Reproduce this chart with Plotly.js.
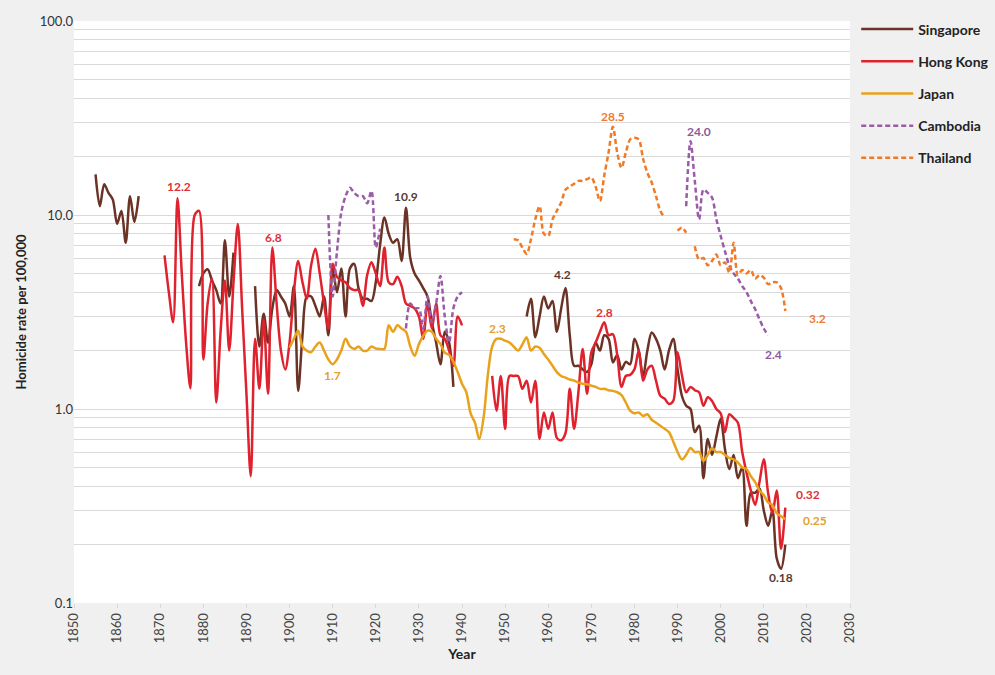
<!DOCTYPE html>
<html>
<head>
<meta charset="utf-8">
<script src="https://cdn.plot.ly/plotly-3.0.1.min.js"></script>
<style>
  html, body { margin: 0; padding: 0; background: #f0f0f0; }
  #chart { width: 995px; height: 675px; }
</style>
</head>
<body>
<div id="chart"></div>
<script>
// ---------- DATA (homicide rate per 100,000) ----------
// Each segment: first year, then yearly values
const singaporeStarts = [1855, 1879, 1892, 1955];
const singapore1855 = [16.2, 11.1, 14.4, 13.0, 12.0, 9.0, 10.5, 7.2, 12.5, 9.2, 12.5];
const singapore1879 = [4.3, 5.0, 5.25, 4.6, 4.1, 3.5, 7.4, 3.8, 6.4];
const singapore1892 = [4.3, 2.1, 3.1, 2.2, 3.3, 4.1, 3.8, 3.5, 3.0, 4.3, 1.24, 2.4, 3.8, 3.8, 3.4, 3.0, 3.8, 2.4,
  5.3, 4.0, 5.3, 3.0, 5.3, 5.6, 4.2, 3.7, 3.7, 3.6, 4.5, 7.0, 9.7, 8.0, 7.2, 7.5, 5.8, 10.9, 6.0, 5.0, 4.6, 4.2,
  3.8, 2.8, 2.2, 1.7, 2.5, 2.2, 1.3];
const singapore1955 = [3.0, 3.7, 2.34, 3.0, 3.8, 3.3, 3.6, 2.5, 3.3, 4.2, 2.4, 1.67, 1.67, 1.6, 1.55, 1.7, 2.2, 2.0,
  2.4, 2.3, 1.74, 1.9, 1.6, 1.75, 1.7, 2.3, 2.0, 1.48, 2.0, 2.48, 2.3, 2.0, 1.6, 2.0, 2.3, 1.6, 1.17, 1.04, 1.0,
  0.76, 0.82, 0.44, 0.70, 0.58, 0.72, 0.89, 0.62, 0.49, 0.58, 0.44, 0.5, 0.25, 0.37, 0.37, 0.39, 0.3, 0.25, 0.3,
  0.17, 0.15, 0.2];

const hongKongStarts = [1871, 1947];
const hongKong1871 = [6.2, 4.0, 2.8, 12.2, 5.0, 2.2, 1.28, 10.0, 10.5, 1.8, 3.5, 4.7, 1.08, 2.5, 4.6, 2.0, 4.5, 9.0,
  3.3, 1.2, 0.45, 2.3, 1.27, 2.9, 1.2, 6.8, 3.5, 2.0, 1.6, 2.2, 4.0, 5.8, 4.5, 3.7, 5.5, 6.7, 5.0, 3.5, 2.6, 5.6,
  4.8, 4.6, 4.5, 4.2, 4.1, 4.1, 3.4, 4.9, 5.7, 5.0, 4.3, 6.8, 4.5, 4.4, 4.8, 4.3, 3.5, 3.4, 3.3, 3.0, 2.3, 3.5,
  2.6, 3.5, 2.4, 2.3, 2.0, 1.67, 3.0, 2.7];
const hongKong1947 = [1.48, 0.98, 1.48, 0.79, 1.48, 1.48, 1.48, 1.27, 1.4, 1.08, 1.4, 0.70, 0.96, 0.79, 0.96, 0.71,
  0.69, 0.75, 1.27, 0.79, 1.22, 2.04, 1.2, 1.96, 2.2, 2.5, 2.8, 2.4, 2.43, 1.9, 1.3, 1.48, 1.5, 1.6, 2.0, 1.4,
  1.6, 1.67, 1.4, 1.17, 1.13, 1.06, 1.1, 1.96, 1.5, 1.22, 1.3, 1.25, 1.22, 1.04, 1.15, 1.1, 1.0, 0.95, 0.76,
  0.94, 0.9, 0.85, 0.6, 0.47, 0.38, 0.32, 0.42, 0.55, 0.37, 0.29, 0.38, 0.19, 0.31];

const japanStarts = [1900];
const japan1900 = [2.07, 2.3, 2.53, 2.1, 2.0, 1.96, 2.1, 2.2, 2.0, 1.8, 1.7, 1.8, 2.0, 2.3, 2.1, 2.04, 2.1, 2.0,
  2.0, 2.1, 2.05, 2.04, 2.04, 2.7, 2.5, 2.7, 2.6, 2.5, 2.1, 1.88, 2.16, 2.38, 2.53, 2.5, 2.3, 2.16, 1.95, 1.9,
  1.75, 1.55, 1.35, 1.22, 0.95, 0.85, 0.70, 0.9, 1.5, 2.1, 2.3, 2.3, 2.25, 2.2, 2.1, 2.0, 2.15, 2.34, 2.0, 2.1,
  2.07, 1.92, 1.8, 1.67, 1.55, 1.48, 1.45, 1.42, 1.4, 1.37, 1.35, 1.34, 1.32, 1.3, 1.27, 1.27, 1.25, 1.24, 1.22,
  1.18, 1.08, 0.98, 0.95, 0.96, 0.92, 0.94, 0.88, 0.85, 0.82, 0.79, 0.76, 0.68, 0.6, 0.55, 0.58, 0.63, 0.6, 0.6,
  0.54, 0.58, 0.63, 0.6, 0.6, 0.58, 0.56, 0.55, 0.53, 0.5, 0.49, 0.45, 0.42, 0.38, 0.36, 0.33, 0.32, 0.29, 0.28,
  0.27];

const cambodiaStarts = [1909, 1927, 1992];
const cambodia1909 = [10.0, 3.8, 6.5, 10.3, 12.5, 13.8, 13.0, 12.5, 12.5, 11.5, 13.3, 6.8, 8.5];
const cambodia1927 = [2.6, 3.5, 3.3, 3.3, 2.6, 3.8, 2.8, 3.5, 4.85, 3.0, 2.2, 3.3, 3.8, 4.0];
const cambodia1992 = [11.1, 24.0, 15.0, 9.5, 13.5, 13.0, 12.3, 9.5, 7.8, 6.5, 5.5, 5.0, 4.7, 4.3, 4.0, 3.6, 3.27,
  2.9, 2.6, 2.4];

const thailandStarts = [1952, 1990, 1994];
const thailand1952 = [7.5, 7.4, 6.8, 6.3, 7.5, 9.5, 11.1, 8.0, 7.8, 9.5, 10.5, 11.6, 13.5, 14.0, 14.5, 15.0, 15.0,
  15.3, 15.6, 14.0, 11.8, 16.0, 21.0, 28.5, 21.0, 17.5, 21.0, 24.5, 25.0, 24.5, 19.5, 16.5, 14.7, 12.5, 10.5, 9.7];
const thailand1990 = [8.3, 8.6, 8.1];
const thailand1994 = [6.9, 5.9, 6.0, 5.5, 5.8, 6.25, 5.5, 5.7, 5.05, 7.2, 4.9, 5.2, 5.0, 5.2, 4.7, 4.9, 4.75, 4.4,
  4.5, 4.5, 4.2, 3.2];

const seriesNames = ['Singapore', 'Hong Kong', 'Japan', 'Cambodia', 'Thailand'];

const xTickVals = [1850, 1860, 1870, 1880, 1890, 1900, 1910, 1920, 1930, 1940, 1950, 1960, 1970, 1980, 1990, 2000, 2010, 2020, 2030];
const yMajorVals = [0.1, 1, 10, 100];
const yMajorText = ['0.1', '1.0', '10.0', '100.0'];

// ---------- BUILD ----------
function joinSegments(starts, segs) {
  const x = [], y = [];
  segs.forEach((seg, i) => {
    if (i > 0) { x.push(starts[i] - 0.5); y.push(null); }
    seg.forEach((v, k) => { x.push(starts[i] + k); y.push(v); });
  });
  return {x, y};
}

const seriesData = {
  'Singapore': joinSegments(singaporeStarts, [singapore1855, singapore1879, singapore1892, singapore1955]),
  'Hong Kong': joinSegments(hongKongStarts, [hongKong1871, hongKong1947]),
  'Japan': joinSegments(japanStarts, [japan1900]),
  'Cambodia': joinSegments(cambodiaStarts, [cambodia1909, cambodia1927, cambodia1992]),
  'Thailand': joinSegments(thailandStarts, [thailand1952, thailand1990, thailand1994])
};

const styles = {
  'Singapore': {color: '#6b3326', dash: 'solid'},
  'Hong Kong': {color: '#e0222e', dash: 'solid'},
  'Japan': {color: '#e9a21c', dash: 'solid'},
  'Cambodia': {color: '#9a5ca8', dash: '5px,3px'},
  'Thailand': {color: '#f07a26', dash: '5px,3px'}
};
const labelColors = {
  'Singapore': '#5a3a32', 'Hong Kong': '#e0303a', 'Japan': '#e3a128',
  'Cambodia': '#8b5a9e', 'Thailand': '#f07a30'
};

const traces = seriesNames.map((name, i) => ({
  type: 'scatter', mode: 'lines', name: name, legendgroup: 'g' + i,
  x: seriesData[name].x, y: seriesData[name].y,
  connectgaps: false,
  line: {color: styles[name].color, width: 2.5, dash: styles[name].dash, shape: 'spline', smoothing: 0.9},
  hoverinfo: 'x+y+name'
}));

// value labels, anchored to the data point of the named series
const labelSpecs = [
  {s: 'Hong Kong', year: 1874, text: '12.2', dx: 2, dy: 12},
  {s: 'Hong Kong', year: 1896, text: '6.8', dx: 1, dy: 10},
  {s: 'Japan', year: 1910, text: '1.7', dx: 0, dy: -11},
  {s: 'Singapore', year: 1927, text: '10.9', dx: 0, dy: 11},
  {s: 'Japan', year: 1948, text: '2.3', dx: 1, dy: 10},
  {s: 'Singapore', year: 1964, text: '4.2', dx: -3, dy: 14},
  {s: 'Hong Kong', year: 1973, text: '2.8', dx: 0, dy: 10},
  {s: 'Thailand', year: 1975, text: '28.5', dx: 0, dy: 10},
  {s: 'Cambodia', year: 1993, text: '24.0', dx: 9, dy: 10},
  {s: 'Thailand', year: 2015, text: '3.2', dx: 32, dy: -7},
  {s: 'Cambodia', year: 2011, text: '2.4', dx: 5, dy: -19},
  {s: 'Hong Kong', year: 2015, text: '0.32', dx: 23, dy: 13},
  {s: 'Japan', year: 2015, text: '0.25', dx: 30, dy: -1},
  {s: 'Singapore', year: 2014, text: '0.18', dx: 0, dy: -9}
];
const annotations = labelSpecs.map(l => {
  const d = seriesData[l.s];
  const idx = d.x.indexOf(l.year);
  return {
    x: l.year, y: Math.log10(d.y[idx]), xref: 'x', yref: 'y',
    text: '<b>' + l.text + '</b>', showarrow: false,
    xshift: l.dx, yshift: l.dy,
    font: {family: 'Lato, "Open Sans", sans-serif', size: 12, color: labelColors[l.s]}
  };
});

// y grid at every 1..9 multiple per decade; labels only at decades
const yTickVals = [], yTickText = [];
for (let e = -1; e <= 2; e++) {
  for (let m = 1; m <= 9; m++) {
    const v = +(m * Math.pow(10, e)).toPrecision(3);
    if (v > 100) break;
    yTickVals.push(v);
    const j = yMajorVals.indexOf(v);
    yTickText.push(j >= 0 ? yMajorText[j] : '');
  }
}

const layout = {
  width: 995, height: 675,
  paper_bgcolor: '#f0f0f0', plot_bgcolor: '#ffffff',
  margin: {l: 74, r: 145, t: 21, b: 72, autoexpand: false},
  font: {family: 'Lato, "Open Sans", sans-serif', size: 13, color: '#333'},
  showlegend: true,
  legend: {
    x: 1.008, y: 1.013, xanchor: 'left', yanchor: 'top',
    bgcolor: 'rgba(0,0,0,0)', traceorder: 'grouped', tracegroupgap: 11,
    itemwidth: 52,
    font: {family: 'Lato, "Open Sans", sans-serif', size: 14, color: '#222', weight: 'bold'}
  },
  xaxis: {
    range: [1850, 2030], tickmode: 'array', tickvals: xTickVals,
    tickangle: -90, showgrid: false, zeroline: false,
    showline: false, ticks: 'outside', ticklen: 4, tickcolor: '#d9d9d9',
    tickfont: {size: 13, color: '#444'},
    title: {text: '<b>Year</b>', font: {size: 14, color: '#222'}, standoff: 6}
  },
  yaxis: {
    type: 'log', range: [-1, 2], tickmode: 'array', tickvals: yTickVals, ticktext: yTickText,
    showgrid: true, gridcolor: '#d9d9d9', gridwidth: 1, zeroline: false, showline: false,
    ticks: '', tickfont: {size: 13, color: '#333'},
    title: {text: '<b>Homicide rate per 100,000</b>', font: {size: 13, color: '#222'}, standoff: 10}
  },
  annotations: annotations
};

Plotly.newPlot('chart', traces, layout, {displayModeBar: false, staticPlot: true});
</script>
</body>
</html>
